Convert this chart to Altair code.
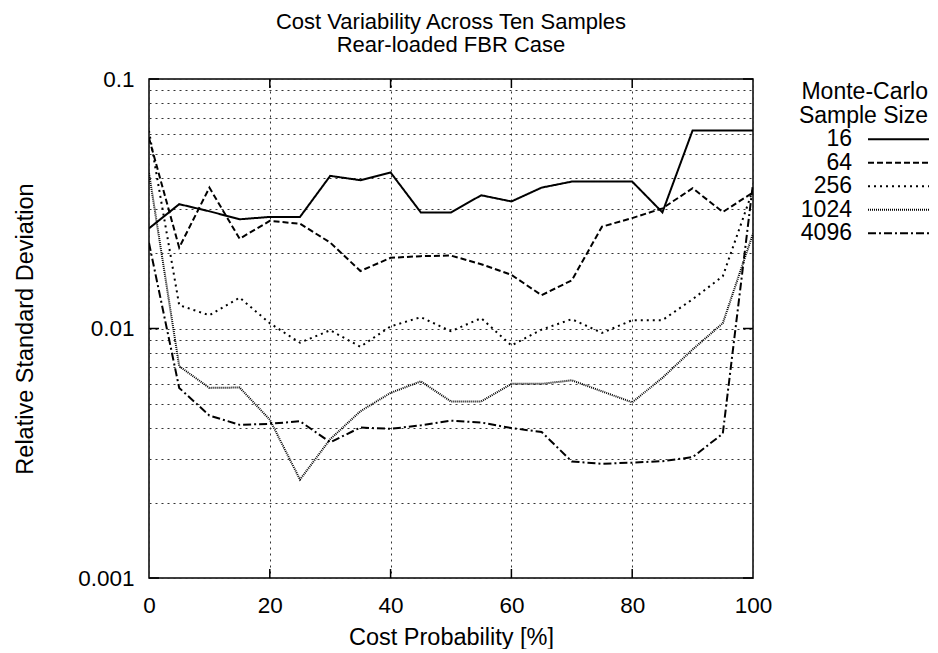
import altair as alt
import pandas as pd

# ---- data ----
x_pct = [0, 5, 10, 15, 20, 25, 30, 35, 40, 45, 50, 55, 60, 65, 70, 75, 80, 85, 90, 95, 100]
series_names = ["16", "64", "256", "1024", "4096"]
s16 = [0.0252, 0.0315, 0.0295, 0.0274, 0.0280, 0.0280, 0.0409, 0.0393, 0.0422, 0.0292, 0.0292,
       0.0342, 0.0323, 0.0367, 0.0388, 0.0388, 0.0388, 0.0292, 0.0622, 0.0622, 0.0622]
s64 = [0.0580, 0.0211, 0.0367, 0.0229, 0.0270, 0.0263, 0.0221, 0.0170, 0.0192, 0.0195, 0.0196,
       0.0181, 0.0164, 0.0136, 0.0156, 0.0256, 0.0277, 0.0303, 0.0365, 0.0293, 0.0351]
s256 = [0.0620, 0.0124, 0.0113, 0.0133, 0.0105, 0.00877, 0.00984, 0.00845, 0.0102, 0.0111, 0.00975,
        0.0110, 0.00855, 0.0099, 0.0109, 0.0096, 0.0108, 0.0108, 0.0131, 0.0162, 0.0360]
s1024 = [0.0420, 0.00706, 0.00578, 0.0058, 0.00431, 0.00248, 0.0036, 0.00466, 0.00552, 0.00614, 0.0051,
         0.0051, 0.0060, 0.0060, 0.0062, 0.0056, 0.00506, 0.00634, 0.00824, 0.0105, 0.0240]
s4096 = [0.0220, 0.00578, 0.00448, 0.00411, 0.00415, 0.00425, 0.0035, 0.00401, 0.00396, 0.00409, 0.00427,
         0.0042, 0.00399, 0.00385, 0.00293, 0.00287, 0.0029, 0.00294, 0.00305, 0.00379, 0.0380]

y_major = [0.001, 0.01, 0.1]
y_grid = [0.001, 0.002, 0.003, 0.004, 0.005, 0.006, 0.007, 0.008, 0.009,
          0.01, 0.02, 0.03, 0.04, 0.05, 0.06, 0.07, 0.08, 0.09, 0.1]
x_ticks = [0, 20, 40, 60, 80, 100]
legend_title = ["Monte-Carlo", "Sample Size"]
chart_title = ["Cost Variability Across Ten Samples", "Rear-loaded FBR Case"]

dash_range = [[1, 0], [6, 3], [2, 4], [1, 1], [8, 3, 2, 3]]

FONT = "Liberation Sans"
FS_TICK = 22.5
FS_TITLE = 23.5
FS_LEG = 23
W, H = 604, 499

rows = []
for name, vals in zip(series_names, [s16, s64, s256, s1024, s4096]):
    for xv, yv in zip(x_pct, vals):
        rows.append({"series": name, "x": xv, "y": yv})
df = pd.DataFrame(rows)

dash_scale = alt.Scale(domain=series_names, range=dash_range)
xscale = alt.Scale(domain=[0, 100], nice=False, zero=False)
yscale = alt.Scale(type="log", domain=[0.001, 0.1], nice=False)

label_expr = ("(datum.value == 0.1 || datum.value == 0.01 || datum.value == 0.001) ? "
              "format(datum.value, '~g') : ''")

x_axis = alt.Axis(values=x_ticks, grid=True, ticks=False, domain=False,
                  gridDash=[2, 4], gridColor="#333", gridWidth=1,
                  labelFont=FONT, labelFontSize=FS_TICK, labelColor="black", labelPadding=16,
                  labelFlush=False,
                  titleFont=FONT, titleFontSize=FS_TITLE, titleFontWeight="normal",
                  titleColor="black", titlePadding=9)
y_axis = alt.Axis(values=y_grid, labelExpr=label_expr, grid=True, ticks=False, domain=False,
                  gridDash=[2, 4], gridColor="#333", gridWidth=1,
                  labelFont=FONT, labelFontSize=FS_TICK, labelColor="black", labelPadding=15,
                  labelFlush=False,
                  titleFont=FONT, titleFontSize=FS_TITLE, titleFontWeight="normal",
                  titleColor="black", titlePadding=40)

lines = alt.Chart(df).mark_line(strokeWidth=2, color="black", clip=True).encode(
    x=alt.X("x:Q", scale=xscale, title="Cost Probability [%]", axis=x_axis),
    y=alt.Y("y:Q", scale=yscale, title="Relative Standard Deviation", axis=y_axis),
    strokeDash=alt.StrokeDash("series:N", scale=dash_scale, legend=None),
    detail="series:N",
)

ymaj_df = pd.DataFrame({"v": y_major})
xt_df = pd.DataFrame({"v": x_ticks[1:-1]})

ytick_l = alt.Chart(ymaj_df).mark_rule(color="black", strokeWidth=1.5).encode(
    y=alt.Y("v:Q", scale=yscale, title="Relative Standard Deviation", axis=y_axis),
    x=alt.value(0), x2=alt.value(10))
ytick_r = alt.Chart(ymaj_df).mark_rule(color="black", strokeWidth=1.5).encode(
    y=alt.Y("v:Q", scale=yscale, title="Relative Standard Deviation", axis=y_axis),
    x=alt.value(W - 10), x2=alt.value(W))
xtick_b = alt.Chart(xt_df).mark_rule(color="black", strokeWidth=1.5).encode(
    x=alt.X("v:Q", scale=xscale, title="Cost Probability [%]", axis=x_axis),
    y=alt.value(H), y2=alt.value(H - 9))
xtick_t = alt.Chart(xt_df).mark_rule(color="black", strokeWidth=1.5).encode(
    x=alt.X("v:Q", scale=xscale, title="Cost Probability [%]", axis=x_axis),
    y=alt.value(0), y2=alt.value(9))

plot_layer = alt.layer(lines, ytick_l, ytick_r, xtick_b, xtick_t)

# ---- legend, drawn to the right of the plot, positioned by its own row scale ----
leg_df = pd.DataFrame({"series": series_names, "row": list(range(len(series_names)))})
ttl_df = pd.DataFrame({"txt": legend_title, "row": [-2, -1]})
ROW_PX = 23.5
d0 = -60.3 / ROW_PX
lscale = alt.Scale(domain=[d0, d0 + H / ROW_PX], reverse=True, nice=False, zero=False)

leg_text = alt.Chart(leg_df).mark_text(font=FONT, fontSize=FS_LEG, align="right", baseline="middle",
                                       color="black").encode(
    y=alt.Y("row:Q", scale=lscale, axis=None), x=alt.value(W + 99), text="series:N")
leg_line = alt.Chart(leg_df).mark_rule(color="black", strokeWidth=2).encode(
    y=alt.Y("row:Q", scale=lscale, axis=None), x=alt.value(W + 115), x2=alt.value(W + 176),
    strokeDash=alt.StrokeDash("series:N", scale=dash_scale, legend=None))
leg_ttl = alt.Chart(ttl_df).mark_text(font=FONT, fontSize=FS_LEG, align="right", baseline="middle",
                                      color="black").encode(
    y=alt.Y("row:Q", scale=lscale, axis=None), x=alt.value(W + 175), text="txt:N")

legend_layer = alt.layer(leg_ttl, leg_text, leg_line)

chart = alt.layer(plot_layer, legend_layer).resolve_scale(y="independent").properties(
    width=W, height=H,
    title=alt.TitleParams(chart_title, font=FONT, fontSize=22, fontWeight="normal", color="black",
                          lineHeight=23, offset=11, anchor="middle"),
    view=alt.ViewBackground(stroke="black", strokeWidth=1.5),
    padding={"left": 5, "top": 3, "right": 0, "bottom": 0},
    background="white",
)

chart.save("out.html", embed_options={"renderer": "svg", "actions": False})
